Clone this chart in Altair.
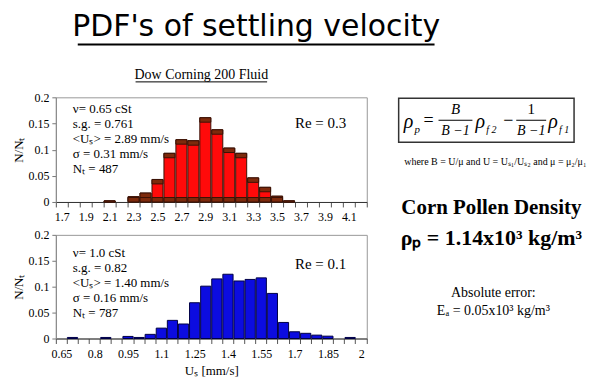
import altair as alt
import pandas as pd

# ---------------- data ----------------
top_cats = ["1.7", "1.8", "1.9", "2", "2.1", "2.2", "2.3", "2.4", "2.5", "2.6", "2.7", "2.8", "2.9",
            "3", "3.1", "3.2", "3.3", "3.4", "3.5", "3.6", "3.7", "3.8", "3.9", "4", "4.1", "4.2"]
top_vals = [0, 0, 0, 0, 0.002, 0, 0.010, 0.017, 0.043, 0.093, 0.119, 0.117, 0.161,
            0.138, 0.103, 0.093, 0.046, 0.028, 0.011, 0.002, 0, 0, 0, 0, 0, 0]
top_labels = ["1.7", "1.9", "2.1", "2.3", "2.5", "2.7", "2.9", "3.1", "3.3", "3.5", "3.7", "3.9", "4.1"]

bot_cats = ["0.65", "0.7", "0.75", "0.8", "0.85", "0.9", "0.95", "1", "1.05", "1.1", "1.15", "1.2",
            "1.25", "1.3", "1.35", "1.4", "1.45", "1.5", "1.55", "1.6", "1.65", "1.7", "1.75",
            "1.8", "1.85", "1.9", "1.95", "2"]
bot_vals = [0, 0.002, 0, 0, 0.002, 0, 0.004, 0.002, 0.008, 0.020, 0.035, 0.028,
            0.069, 0.101, 0.115, 0.124, 0.111, 0.114, 0.117, 0.087, 0.031, 0.013, 0.010,
            0.0065, 0.0045, 0, 0.002, 0]
bot_labels = ["0.65", "0.8", "0.95", "1.1", "1.25", "1.4", "1.55", "1.7", "1.85", "2"]

y_ticks = [0, 0.05, 0.1, 0.15, 0.2]

top_info = ["ν= 0.65 cSt", "s.g. = 0.761", "<Uₛ> = 2.89 mm/s", "σ = 0.31 mm/s", "Nₜ = 487"]
bot_info = ["ν= 1.0 cSt", "s.g. = 0.82", "<Uₛ> = 1.40 mm/s", "σ = 0.16 mm/s", "Nₜ = 787"]

SERIF = "Liberation Serif"

top_df = pd.DataFrame({"cat": top_cats, "val": top_vals})
top_df = top_df[top_df["val"] > 0]
bot_df = pd.DataFrame({"cat": bot_cats, "val": bot_vals})
bot_df = bot_df[bot_df["val"] > 0]


def label_expr(labels):
    arr = ",".join("'" + s + "'" for s in labels)
    return f"indexof([{arr}], datum.value) >= 0 ? datum.value : ''"


def txt(s, x, y, size=13, font=SERIF, align="left", baseline="middle", **kw):
    return alt.Chart(alt.Data(values=[{"k": 0}])).mark_text(
        text=s, font=font, fontSize=size, align=align, baseline=baseline, color="black", **kw
    ).encode(x=alt.value(x), y=alt.value(y))


def hline(x1, x2, y, width=1.0, color="black", opacity=1.0):
    return alt.Chart(alt.Data(values=[{"k": 0}])).mark_rule(
        color=color, strokeWidth=width, opacity=opacity
    ).encode(x=alt.value(x1), x2=alt.value(x2), y=alt.value(y))


def x_enc(cats, labels, xtitle):
    x_axis = alt.Axis(
        labelExpr=label_expr(labels), labelAngle=0, labelOverlap=False, labelFlush=False,
        tickBand="extent", ticks=True, tickSize=5, tickColor="#555", domainColor="#333",
        labelFont=SERIF, labelFontSize=12, labelColor="black", labelPadding=5,
        title=xtitle if xtitle else None, titleFont=SERIF, titleFontSize=13,
        titleFontWeight="normal", titleColor="black", titlePadding=5, grid=False,
    )
    return alt.X("cat:O", sort=cats,
                 scale=alt.Scale(domain=cats, paddingInner=0.08, paddingOuter=0.04),
                 axis=x_axis)


def y_enc(field="val"):
    y_axis = alt.Axis(
        values=y_ticks, format="~g", tickSize=4, tickColor="#777", domainColor="#888",
        labelFont=SERIF, labelFontSize=12, labelColor="black", labelPadding=3,
        title="N/Nₜ", titleFont=SERIF, titleFontSize=13, titleFontWeight="normal",
        titleColor="black", titlePadding=2, grid=False,
    )
    return alt.Y(f"{field}:Q", scale=alt.Scale(domain=[0, 0.2]), axis=y_axis)


def histogram(df, cats, labels, fill, stroke, xtitle):
    return alt.Chart(df).mark_bar(fill=fill, stroke=stroke, strokeWidth=1).encode(
        x=x_enc(cats, labels, xtitle), y=y_enc()
    )


top_bars = histogram(top_df, top_cats, top_labels, "#ff0a0a", "#3a1206", None)
BAND = 0.0085
top_band_hi = alt.Chart(top_df).transform_calculate(
    lo=f"max(0, datum.val - {BAND})"
).mark_bar(fill="#7d2a0c", stroke="#3a1206", strokeWidth=1).encode(
    x=x_enc(top_cats, top_labels, None), y=y_enc(), y2="lo:Q"
)
top_band_lo = alt.Chart(top_df).transform_calculate(
    hi=f"min(datum.val, {BAND})", zero="0"
).mark_bar(fill="#7d2a0c", stroke="#3a1206", strokeWidth=1).encode(
    x=x_enc(top_cats, top_labels, None), y=y_enc("hi"), y2="zero:Q"
)
bot_bars = histogram(bot_df, bot_cats, bot_labels, "#0c0ce0", "#000045", "Uₛ [mm/s]")

# ---------- top panel decorations (coordinates relative to top plot) ----------
top_layers = [top_bars, top_band_hi, top_band_lo]
# invisible anchor fixing the layout's top-left corner
top_layers.append(hline(-47, 537, -88, opacity=0))
# slide title
top_layers.append(txt("PDF's of settling velocity", 201, -71, size=30,
                      font="DejaVu Sans", align="center"))
top_layers.append(hline(22, 380, -53, width=2))
top_layers.append(txt("Dow Corning 200 Fluid", 146, -22, size=14, align="center"))
top_layers.append(hline(80, 212, -15.5, width=1))
for i, s in enumerate(top_info):
    top_layers.append(txt(s, 17, 12 + 15 * i))
top_layers.append(txt("Re = 0.3", 240, 26, size=15))

# formula box
box = alt.Chart(alt.Data(values=[{"k": 0}])).mark_rect(
    fill="white", stroke="#333", strokeWidth=1.5
).encode(x=alt.value(344), x2=alt.value(520), y=alt.value(1), y2=alt.value(45))
top_layers.append(box)
IT = dict(fontStyle="italic")
DEN = "B −1"
top_layers.append(txt("ρ", 349, 25, size=20, **IT))
top_layers.append(txt("p", 360, 33, size=11, **IT))
top_layers.append(txt("=", 374, 24, size=18, align="center"))
top_layers.append(txt("B", 401, 12, size=15, align="center", **IT))
top_layers.append(hline(384, 418, 23, width=1))
top_layers.append(txt(DEN, 401, 34, size=14, align="center", **IT))
top_layers.append(txt("ρ", 421, 25, size=20, **IT))
top_layers.append(txt("f 2", 432, 33, size=10, **IT))
top_layers.append(txt("−", 454, 24, size=18, align="center"))
top_layers.append(txt("1", 477, 12, size=15, align="center"))
top_layers.append(hline(462, 492, 23, width=1))
top_layers.append(txt(DEN, 477, 34, size=14, align="center", **IT))
top_layers.append(txt("ρ", 494, 25, size=20, **IT))
top_layers.append(txt("f 1", 505, 33, size=10, **IT))
top_layers.append(txt("where B = U/μ and U = Uₛ₁/Uₛ₂ and μ = μ₂/μ₁", 441, 65, size=10,
                      align="center"))
top_layers.append(txt("Corn Pollen Density", 437, 111, size=21, align="center",
                      fontWeight="bold"))
top_layers.append(txt("ρₚ = 1.14x10³ kg/m³", 437, 141, size=22, align="center",
                      fontWeight="bold"))
top_layers.append(txt("Absolute error:", 439, 196, size=14, align="center"))
top_layers.append(txt("Eₐ = 0.05x10³ kg/m³", 439, 214, size=14, align="center"))

top = alt.layer(*top_layers).properties(width=312, height=105)

# ---------- bottom panel ----------
bot_layers = [bot_bars]
for i, s in enumerate(bot_info):
    bot_layers.append(txt(s, 17, 18 + 15 * i))
bot_layers.append(txt("Re = 0.1", 240, 29, size=15))
bottom = alt.layer(*bot_layers).properties(width=312, height=104)

chart = alt.VConcatChart(vconcat=[top, bottom], spacing=33, bounds="flush").properties(
    padding=0, background="white"
).configure_view(stroke="#999", strokeWidth=1)

chart.save("out.html", embed_options={"renderer": "svg", "actions": False})
